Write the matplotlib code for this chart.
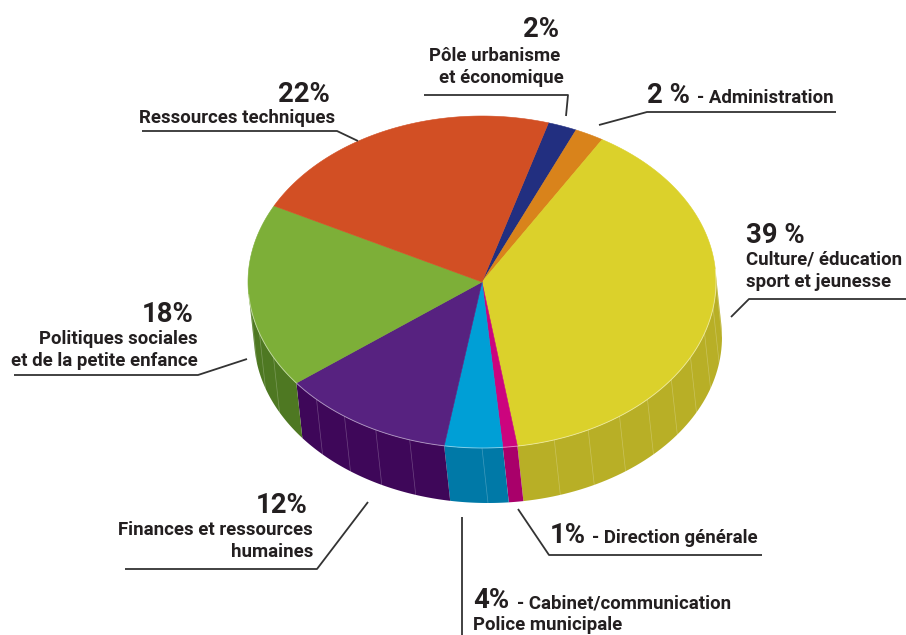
import numpy as np
import matplotlib.pyplot as plt
from matplotlib.patches import Polygon

# budget split, clockwise from the top
categories = ['Pôle urbanisme et économique', 'Administration',
              'Culture/ éducation sport et jeunesse', 'Direction générale',
              'Cabinet/communication Police municipale',
              'Finances et ressources humaines',
              'Politiques sociales et de la petite enfance',
              'Ressources techniques']
values = [2, 2, 39, 1, 4, 12, 18, 22]
pct_labels = ['2%', '2 %', '39 %', '1%', '4%', '12%', '18%', '22%']
top_colors = ['#222f80', '#d9831b', '#dbd12b', '#cc047e',
              '#009fd6', '#572280', '#7daf38', '#d24f24']
side_colors = ['#18225e', '#a8620f', '#b8af26', '#a9006a',
               '#0079a7', '#3e0759', '#4e7822', '#a83a17']

# geometry of the tilted disc (pixel coords, y down)
cx, cy, rx, ry = 482, 282, 234, 166
off_x, depth = 6, 55
start = 73.5
ink = '#231f20'
line_c = '#333333'


def rim(t):
    t = np.radians(t)
    return cx + rx * np.cos(t), cy - ry * np.sin(t)


fig = plt.figure(figsize=(9.06, 6.35), dpi=100)
ax = fig.add_axes([0, 0, 1, 1])
ax.set_xlim(0, 906)
ax.set_ylim(635, 0)
ax.axis('off')

# visible part of the wall
t_tan = np.degrees(np.arctan((off_x * ry) / (rx * depth)))
vis_lo, vis_hi = -180 + t_tan, t_tan

bounds = start - np.concatenate([[0], np.cumsum(values)]) * 3.6

# walls first
for i in range(len(values)):
    a1, a2 = bounds[i], bounds[i + 1]
    lo, hi = max(a2, vis_lo), min(a1, vis_hi)
    if hi <= lo:
        continue
    ts = np.linspace(hi, lo, 60)
    xs, ys = rim(ts)
    pts = np.column_stack([np.concatenate([xs, xs[::-1] + off_x]),
                           np.concatenate([ys, ys[::-1] + depth])])
    ax.add_patch(Polygon(pts, closed=True, fc=side_colors[i], ec='none', zorder=1))
    # faint facet lines on the wall
    for t in np.arange(np.ceil(lo / 9) * 9, hi, 9):
        if t - lo < 2 or hi - t < 2:
            continue
        x0, y0 = rim(t)
        ax.plot([x0, x0 + off_x], [y0, y0 + depth], color='white', lw=0.5,
                alpha=0.25, zorder=2)

# top faces
for i in range(len(values)):
    ts = np.linspace(bounds[i], bounds[i + 1], 120)
    xs, ys = rim(ts)
    pts = np.column_stack([np.concatenate([[cx], xs]), np.concatenate([[cy], ys])])
    ax.add_patch(Polygon(pts, closed=True, fc=top_colors[i], ec=top_colors[i],
                         lw=0.4, zorder=3))

# light rim between top and wall
ts = np.linspace(vis_lo, vis_hi, 200)
xs, ys = rim(ts)
ax.plot(xs, ys, color='white', lw=0.7, alpha=0.45, zorder=4)


def txt(x, y, s, size=13.4, ha='left'):
    ax.text(x, y, s, fontsize=size, ha=ha, va='baseline', color=ink,
            fontweight='bold', family=['Roboto', 'DejaVu Sans'], zorder=5)


def leader(xs, ys):
    ax.plot(xs, ys, color=line_c, lw=1.3, zorder=5, solid_capstyle='butt')


big = 19.8

# Pôle urbanisme
txt(559, 37, pct_labels[0], big, 'right')
txt(560, 61, 'Pôle urbanisme', ha='right')
txt(564, 83, 'et économique', ha='right')
leader([424, 568, 566], [95, 95, 116])

# Administration
txt(647, 103, pct_labels[1], big)
txt(697, 103, '- ' + categories[1])
leader([599, 647, 836], [125, 112, 112])

# Culture
txt(746, 243, pct_labels[2], big)
txt(746, 265, 'Culture/ éducation')
txt(746, 287, 'sport et jeunesse')
leader([731, 749, 906], [317, 299, 299])

# Direction générale
txt(550, 543, pct_labels[3], big)
txt(592, 543, '- ' + categories[3])
leader([518, 549, 762], [509, 555, 555])

# Cabinet / Police
txt(473, 608, pct_labels[4], big)
txt(517, 608, '- Cabinet/communication')
txt(473, 630, 'Police municipale')
leader([462, 462], [517, 635])

# Finances
txt(308, 513, pct_labels[5], big, 'right')
txt(313, 535, 'Finances et ressources', ha='right')
txt(313, 557, 'humaines', ha='right')
leader([368, 317, 125], [502, 569, 569])

# Politiques sociales
txt(194, 322, pct_labels[6], big, 'right')
txt(198, 344, 'Politiques sociales', ha='right')
txt(198, 366, 'et de la petite enfance', ha='right')
leader([247, 198, 14], [359, 375, 375])

# Ressources techniques
txt(330, 102, pct_labels[7], big, 'right')
txt(335, 123, categories[7], ha='right')
leader([358, 337, 142], [141, 131, 131])

fig.savefig('out.png', dpi=100)
